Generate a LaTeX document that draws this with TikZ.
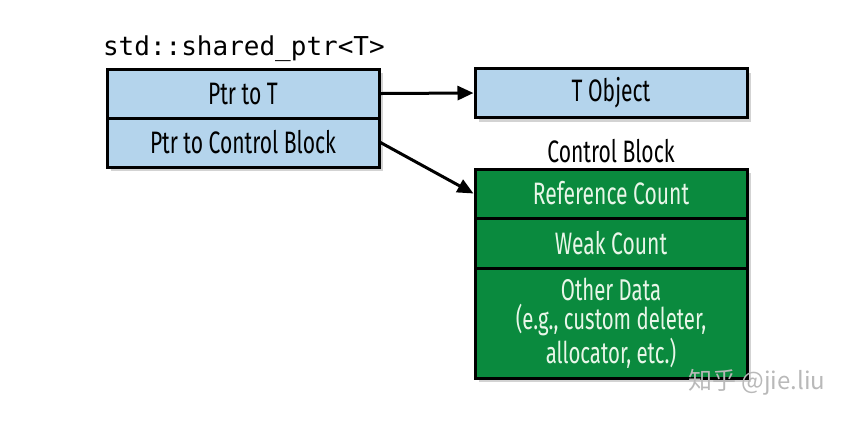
\documentclass[tikz,border=0pt]{standalone}
\usepackage{fontspec}
\setmainfont{Fira Sans}[FakeStretch=0.68]
\setmonofont{DejaVu Sans Mono}
\newfontfamily\cjkfont{Noto Sans CJK SC}
\usetikzlibrary{arrows.meta,shadows}
\definecolor{ptrblue}{RGB}{180,212,236}
\definecolor{cbgreen}{RGB}{10,138,62}
\definecolor{cbtext}{RGB}{232,246,232}

\begin{document}
\begin{tikzpicture}[x=0.5pt,y=-0.5pt,
    cell/.style={draw, line width=1.5pt, minimum width=136pt, minimum height=24.5pt,
      inner sep=0pt, align=center, font=\fontsize{15.5}{14.5}\selectfont,
      drop shadow={shadow xshift=2pt, shadow yshift=-2pt, opacity=0.35}},
    bluecell/.style={cell, fill=ptrblue, text=black},
    greencell/.style={cell, fill=cbgreen, text=cbtext},
    ptr/.style={line width=1.5pt, -{Triangle[length=8pt,width=7pt]}}]
    \useasboundingbox (0,0) rectangle (853,420);

    % the shared_ptr itself
    \node [anchor=base west, font=\ttfamily\fontsize{13}{15}\selectfont] (title) at (96,55) {std::shared\_ptr<T>};
    \node [bluecell] (ptrT) at (243,93.5) {Ptr to T};
    \node [bluecell] (ctrl) at (243,142.5) {Ptr to Control Block};

    % pointed-to object
    \node [bluecell] (tobj) at (611,93) {T Object};

    % control block
    \node [font=\fontsize{15.5}{16}\selectfont] (cblabel) at (611,151) {Control Block};
    \node [greencell] (refcnt) at (611,193.5) {Reference Count};
    \node [greencell, minimum height=25pt] (weak) at (611,243) {Weak Count};
    \node [greencell, minimum height=55pt, font=\fontsize{15}{14.6}\selectfont] (other) at (611,323) {Other Data\\(e.g., custom deleter,\\allocator, etc.)};

    \node [anchor=base west, font=\cjkfont\fontsize{12}{14}\selectfont, text=gray!55] (mark) at (681,389) {知乎 @jie.liu};

    \draw [ptr] (ptrT.east) -- (tobj.west);
    \draw [ptr] (ctrl.east) -- (refcnt.west);
\end{tikzpicture}
\end{document}
